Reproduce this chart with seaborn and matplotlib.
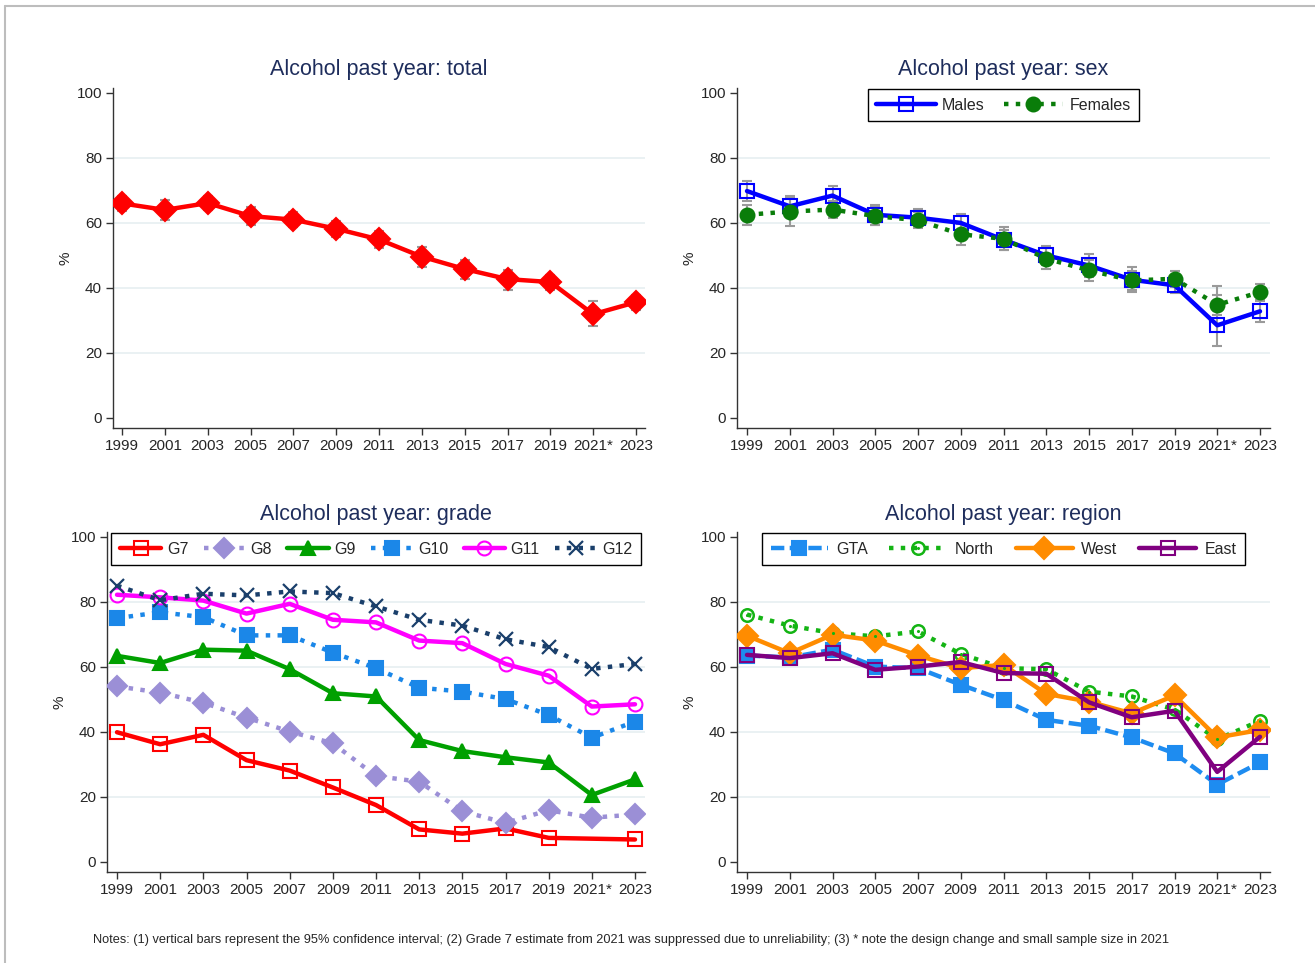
import numpy as np
import pandas as pd
import matplotlib.pyplot as plt
import seaborn as sns
from matplotlib.lines import Line2D

sns.set_style("white")
plt.rcParams['font.family'] = ['Liberation Sans', 'DejaVu Sans']

years = ['1999', '2001', '2003', '2005', '2007', '2009', '2011', '2013', '2015', '2017', '2019', '2021*', '2023']

# total
total = [66.0, 64.0, 66.1, 62.1, 61.0, 58.2, 54.9, 49.6, 45.8, 42.7, 41.8, 31.9, 35.6]
total_lo = [63.6, 61.0, 64.0, 59.4, 58.7, 55.8, 52.4, 46.4, 42.8, 39.5, 39.4, 28.2, 33.3]
total_hi = [68.2, 67.1, 68.3, 64.9, 63.5, 60.5, 57.5, 52.5, 48.7, 45.4, 43.9, 36.0, 37.7]

# sex
males = [69.8, 65.1, 68.4, 62.5, 61.6, 60.0, 54.8, 50.0, 46.9, 42.5, 40.8, 28.5, 32.8]
males_lo = [66.8, 62.0, 65.4, 59.5, 58.8, 57.2, 51.8, 47.0, 43.4, 38.8, 38.3, 22.2, 29.6]
males_hi = [72.8, 68.2, 71.4, 65.5, 64.4, 62.8, 57.8, 53.0, 50.4, 46.5, 43.3, 40.6, 36.1]
females = [62.5, 63.5, 64.1, 62.1, 60.8, 56.5, 55.1, 49.0, 45.4, 42.3, 42.8, 34.8, 38.7]
females_lo = [59.5, 59.0, 61.6, 59.3, 58.3, 53.2, 51.6, 45.7, 42.1, 39.3, 40.3, 31.8, 36.2]
females_hi = [65.5, 68.0, 66.6, 64.9, 63.3, 59.8, 58.6, 52.3, 48.7, 45.3, 45.3, 37.8, 41.2]

# grade (G7 2021 suppressed)
g7 = [39.9, 36.2, 39.1, 31.3, 28.1, 22.9, 17.5, 10.0, 8.7, 10.3, 7.4, np.nan, 6.9]
g8 = [54.0, 52.1, 49.0, 44.4, 40.1, 36.5, 26.4, 24.7, 15.6, 12.0, 15.9, 13.6, 14.6]
g9 = [63.4, 61.2, 65.3, 65.0, 59.3, 51.9, 50.9, 37.5, 34.1, 32.2, 30.6, 20.6, 25.4]
g10 = [75.0, 76.8, 75.3, 69.7, 69.7, 64.4, 59.6, 53.6, 52.4, 50.1, 45.2, 38.2, 43.2]
g11 = [82.2, 81.4, 80.4, 76.4, 79.4, 74.5, 73.7, 68.1, 67.3, 60.9, 57.3, 47.8, 48.5]
g12 = [85.0, 80.5, 82.5, 82.0, 83.2, 82.7, 78.6, 74.5, 72.7, 68.5, 66.1, 59.4, 60.9]

# region
gta = [63.5, 62.9, 65.3, 60.1, 59.6, 54.5, 49.8, 43.7, 41.9, 38.3, 33.4, 23.8, 30.6]
north = [76.1, 72.7, 70.4, 69.4, 70.9, 64.0, 59.6, 59.3, 52.4, 50.9, 46.9, 37.7, 43.4]
west = [69.6, 64.2, 69.9, 68.1, 63.5, 59.6, 60.6, 51.7, 49.3, 45.7, 51.2, 38.3, 40.6]
east = [63.7, 62.7, 64.2, 59.1, 60.1, 61.5, 58.1, 57.9, 49.1, 44.5, 46.5, 27.7, 38.5]

x = np.arange(len(years))
title_color = '#1e2d5c'
ci_color = '#9a9a9a'

fig = plt.figure(figsize=(13.15, 9.63), dpi=100)
W, H = 1315, 963


def make_ax(left, right, top, bottom):
    return fig.add_axes([left / W, 1 - bottom / H, (right - left) / W, (bottom - top) / H])


ax1 = make_ax(113, 645, 88, 428)
ax2 = make_ax(737, 1270, 88, 428)
ax3 = make_ax(107, 645, 532, 872)
ax4 = make_ax(737, 1270, 532, 872)
ax_left = {ax1: 113, ax2: 737, ax3: 107, ax4: 737}
ax_right = {ax1: 645, ax2: 1270, ax3: 645, ax4: 1270}


def style_ax(ax, title, first, last):
    px = (last - first) / 12.0
    ax.set_xlim(-(first - ax_left[ax]) / px, 12 + (ax_right[ax] - last) / px)
    ax.set_ylim(-3.1, 101.5)
    for v in [20, 40, 60, 80]:
        ax.axhline(v, color='#e8f0f2', lw=1.3, zorder=0)
    ax.set_xticks(x)
    ax.set_xticklabels(years)
    ax.set_yticks([0, 20, 40, 60, 80, 100])
    ax.tick_params(axis='both', labelsize=11, length=5, width=1, color='#333333',
                   direction='out', left=True, bottom=True, pad=3)
    for s in ['top', 'right']:
        ax.spines[s].set_visible(False)
    for s in ['left', 'bottom']:
        ax.spines[s].set_color('#333333')
        ax.spines[s].set_linewidth(1)
    ax.set_ylabel('%', fontsize=11, labelpad=3)
    ax.set_xlabel('')
    ax.set_title(title, fontsize=15.5, color=title_color, pad=9)


def ci(ax, y, lo, hi):
    y = np.array(y)
    err = np.vstack([y - np.array(lo), np.array(hi) - y])
    ax.errorbar(x, y, yerr=err, fmt='none', ecolor=ci_color, elinewidth=1.5,
                capsize=3.5, capthick=1.5, zorder=1)


def line(ax, y, color, marker, ls, ms, hollow=False, mew=1.5):
    df = pd.DataFrame({'x': x, 'y': y}).dropna()
    kw = dict(markerfacecolor='none' if hollow else color, markeredgecolor=color,
              markeredgewidth=mew)
    sns.lineplot(data=df, x='x', y='y', ax=ax, color=color, marker=marker,
                 linestyle=ls, linewidth=3.2, markersize=ms, legend=False, zorder=3, **kw)
    return Line2D([0], [0], color=color, marker=marker, linestyle=ls, linewidth=3.2,
                  markersize=ms, **kw)


def add_legend(ax, handles, labels, hl, htp, cs):
    leg = ax.legend(handles, labels, loc='upper center', bbox_to_anchor=(0.5, 1.0),
                    ncol=len(labels), fontsize=11.5, frameon=True, fancybox=False,
                    edgecolor='black', handlelength=hl, handletextpad=htp,
                    columnspacing=cs, borderpad=0.55, borderaxespad=0.05, framealpha=1)
    leg.get_frame().set_linewidth(1)


# panel 1: total
ci(ax1, total, total_lo, total_hi)
line(ax1, total, '#ff0000', 'D', '-', 11)
style_ax(ax1, 'Alcohol past year: total', 122, 636)

# panel 2: sex
ci(ax2, males, males_lo, males_hi)
ci(ax2, females, females_lo, females_hi)
h_m = line(ax2, males, '#0000ff', 's', '-', 10, hollow=True)
h_f = line(ax2, females, '#0a7d0a', 'o', ':', 10)
style_ax(ax2, 'Alcohol past year: sex', 747, 1260)
add_legend(ax2, [h_m, h_f], ['Males', 'Females'], 3.7, 0.4, 1.2)

# panel 3: grade
handles3 = [
    line(ax3, g7, '#ff0000', 's', '-', 10, hollow=True),
    line(ax3, g8, '#9b8fd6', 'D', ':', 10),
    line(ax3, g9, '#00a000', '^', '-', 10),
    line(ax3, g10, '#1b87e8', 's', ':', 10),
    line(ax3, g11, '#ff00ff', 'o', '-', 10, hollow=True),
    line(ax3, g12, '#1a3f6b', 'x', ':', 10, mew=1.6),
]
style_ax(ax3, 'Alcohol past year: grade', 117, 635)
add_legend(ax3, handles3, ['G7', 'G8', 'G9', 'G10', 'G11', 'G12'], 2.6, 0.35, 0.95)

# panel 4: region
north_color = '#14b414'
h_north = line(ax4, north, north_color, 'o', ':', 9, hollow=True, mew=1.8)
sns.scatterplot(x=x, y=north, ax=ax4, color=north_color, marker='o', s=5,
                linewidth=0, zorder=4, legend=False)
h_north_dot = Line2D([0], [0], color=north_color, marker='o', markersize=2.2,
                     linestyle='none', markeredgewidth=0)
handles4 = [
    line(ax4, gta, '#1e8cf0', 's', (0, (3, 1.2)), 10),
    (h_north, h_north_dot),
    line(ax4, west, '#ff8c00', 'D', '-', 11),
    line(ax4, east, '#800080', 's', '-', 10, hollow=True),
]
style_ax(ax4, 'Alcohol past year: region', 747, 1260)
add_legend(ax4, handles4, ['GTA', 'North', 'West', 'East'], 3.6, 0.5, 1.35)

fig.text(93 / W, 1 - 940 / H, 'Notes: (1) vertical bars represent the 95% confidence interval; '
         '(2) Grade 7 estimate from 2021 was suppressed due to unreliability; '
         '(3) * note the design change and small sample size in 2021',
         fontsize=9.2, va='center', ha='left')

# outer border (top and left edges visible)
fig.add_artist(Line2D([5 / W, 1.0], [1 - 6 / H, 1 - 6 / H], color='#bdbdbd', lw=1.5))
fig.add_artist(Line2D([5 / W, 5 / W], [0.0, 1 - 6 / H], color='#bdbdbd', lw=1.5))

fig.savefig('out.png', dpi=100)
